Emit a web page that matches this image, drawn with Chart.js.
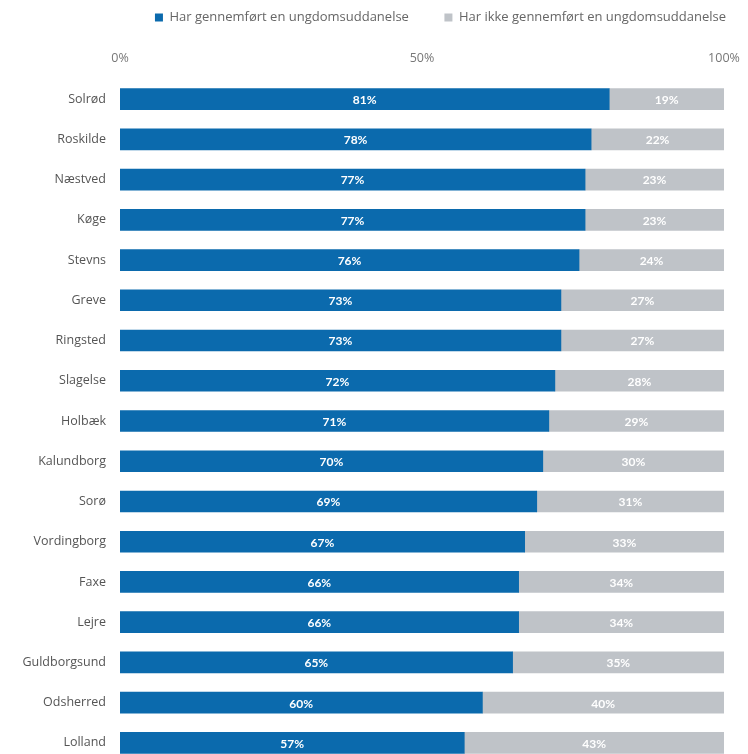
<!DOCTYPE html>
<html>
<head>
<meta charset="utf-8">
<script src="https://cdn.jsdelivr.net/npm/chart.js@4.4.0/dist/chart.umd.min.js"></script>
<style>
  html, body { margin: 0; padding: 0; background: #fff; overflow: hidden; }
  #wrap { width: 748px; height: 764px; }
</style>
</head>
<body>
<div id="wrap"><canvas id="myChart"></canvas></div>
<script>
const kommuner = ['Solrød', 'Roskilde', 'Næstved', 'Køge', 'Stevns', 'Greve', 'Ringsted', 'Slagelse', 'Holbæk',
  'Kalundborg', 'Sorø', 'Vordingborg', 'Faxe', 'Lejre', 'Guldborgsund', 'Odsherred', 'Lolland'];
const gennemfoert = [81, 78, 77, 77, 76, 73, 73, 72, 71, 70, 69, 67, 66, 66, 65, 60, 57];
const ikkeGennemfoert = [19, 22, 23, 23, 24, 27, 27, 28, 29, 30, 31, 33, 34, 34, 35, 40, 43];
const xTicks = [0, 50, 100];

const blue = '#0b6aad';
const grey = '#bfc3c8';
const font = '"Open Sans", Lato, sans-serif';

// white percent labels in the middle of each bar piece
const barLabels = {
  id: 'barLabels',
  afterDatasetsDraw(chart) {
    const c = chart.ctx;
    c.save();
    c.fillStyle = '#fff';
    c.font = 'bold 12px Lato, sans-serif';
    c.textAlign = 'center';
    c.textBaseline = 'middle';
    chart.data.datasets.forEach((ds, i) => {
      chart.getDatasetMeta(i).data.forEach((bar, j) => {
        const mid = (bar.x + bar.base) / 2;
        c.fillText(ds.data[j] + '%', mid, bar.y + 1);
      });
    });
    c.restore();
  }
};

const ctx = document.getElementById('myChart');
let myChart = new Chart(ctx, {
  type: 'bar',
  data: {
    labels: kommuner,
    datasets: [{
      label: 'Har gennemført en ungdomsuddanelse    ',
      data: gennemfoert,
      backgroundColor: blue,
      barThickness: 21
    }, {
      label: 'Har ikke gennemført en ungdomsuddanelse',
      data: ikkeGennemfoert,
      backgroundColor: grey,
      barThickness: 21
    }]
  },
  options: {
    indexAxis: 'y',
    responsive: true,
    maintainAspectRatio: false,
    animation: false,
    layout: { padding: { top: -11, right: 0, bottom: 1, left: 0 } },
    plugins: {
      tooltip: { enabled: false },
      legend: {
        align: 'end',
        labels: {
          boxWidth: 8,
          boxHeight: 8,
          padding: 22,
          color: '#666',
          font: { family: font, size: 13 }
        }
      }
    },
    scales: {
      x: {
        position: 'top',
        stacked: true,
        min: 0,
        max: 100,
        afterBuildTicks(scale) {
          scale.ticks = xTicks.map(v => ({ value: v }));
        },
        afterFit(scale) {
          scale.height = 45;
          scale.paddingLeft = 0;
          scale.paddingRight = 24;
        },
        grid: { display: false, drawTicks: false },
        border: { display: false },
        ticks: {
          color: '#777',
          font: { family: font, size: 12.5 },
          padding: 13,
          maxRotation: 0,
          callback: v => v + '%'
        }
      },
      y: {
        stacked: true,
        afterFit(scale) {
          scale.width = 120;
          scale.paddingTop = 0;
          scale.paddingBottom = 0;
        },
        grid: { display: false, drawTicks: false },
        border: { display: false },
        ticks: {
          color: '#555',
          padding: 14,
          font: { family: font, size: 12.5 }
        }
      }
    }
  },
  plugins: [barLabels]
});
</script>
</body>
</html>
